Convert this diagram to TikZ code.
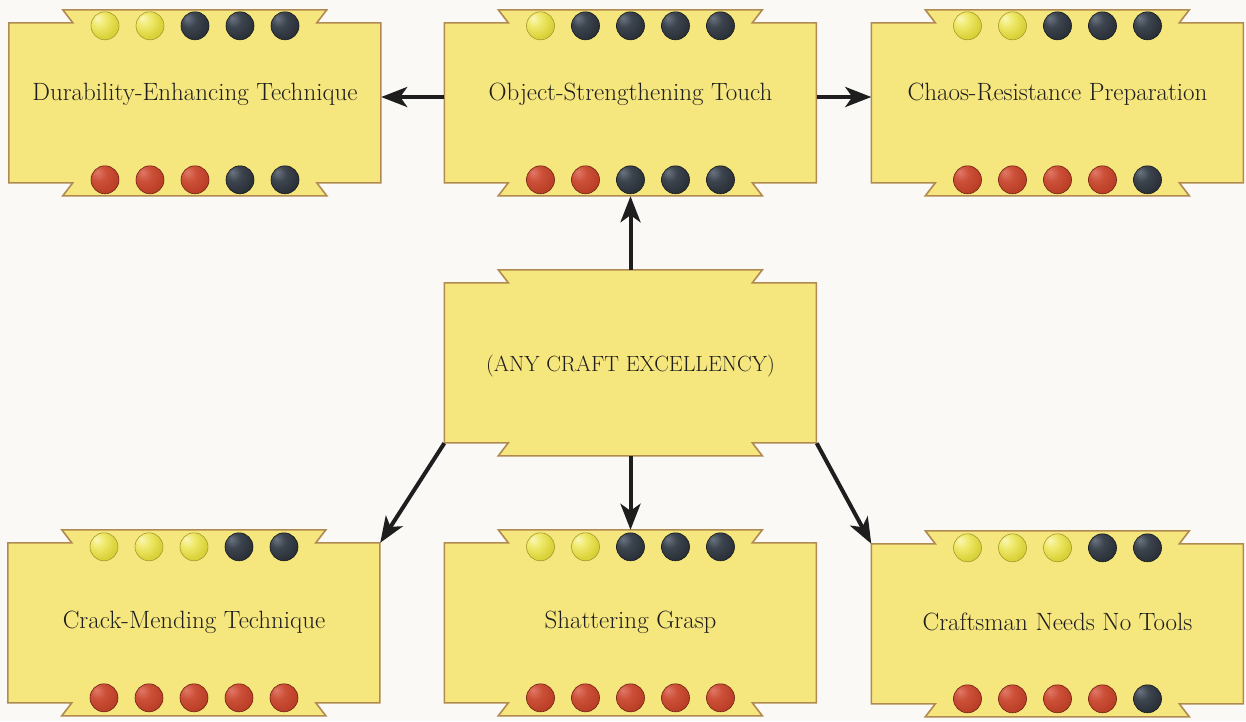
\documentclass[tikz,border=0pt]{standalone}
\usepackage{fontspec}
\usetikzlibrary{arrows.meta,backgrounds}
\definecolor{bgpaper}{HTML}{FBF9F6}
\definecolor{boxfill}{HTML}{F6E67E}
\definecolor{boxedge}{HTML}{B08A50}
\definecolor{rimY}{HTML}{A39A2A}
\definecolor{rimK}{HTML}{15181C}
\definecolor{rimR}{HTML}{6E2012}
\definecolor{inkc}{HTML}{1E1E1E}
\definecolor{yA}{HTML}{FAF6B8}\definecolor{yB}{HTML}{F0EA70}\definecolor{yC}{HTML}{DCD43C}\definecolor{yD}{HTML}{C4BC30}\definecolor{yE}{HTML}{A09820}
\definecolor{kA}{HTML}{6A7480}\definecolor{kB}{HTML}{3C444E}\definecolor{kC}{HTML}{2C323A}\definecolor{kD}{HTML}{22272D}\definecolor{kE}{HTML}{101214}
\definecolor{rA}{HTML}{E07868}\definecolor{rB}{HTML}{CC5038}\definecolor{rC}{HTML}{BC4028}\definecolor{rD}{HTML}{A03420}\definecolor{rE}{HTML}{6A1C10}
\pgfdeclareradialshading{gemballY}{\pgfpoint{-14bp}{14bp}}{color(0bp)=(yA); color(12bp)=(yB); color(28bp)=(yC); color(50bp)=(yD); color(66bp)=(yE)}
\pgfdeclareradialshading{gemballK}{\pgfpoint{-14bp}{14bp}}{color(0bp)=(kA); color(14bp)=(kB); color(30bp)=(kC); color(50bp)=(kD); color(66bp)=(kE)}
\pgfdeclareradialshading{gemballR}{\pgfpoint{-14bp}{14bp}}{color(0bp)=(rA); color(14bp)=(rB); color(30bp)=(rC); color(50bp)=(rD); color(66bp)=(rE)}
\newcommand\skillshape[1]{%
  \draw[boxline] (#1.north west) -- ++(64,0) -- ++(-10,-13) -- ++(264,0) -- ++(-10,13) -- ++(64,0)
    -- ++(0,160) -- ++(-64,0) -- ++(10,13) -- ++(-264,0) -- ++(10,-13) -- ++(-64,0) -- cycle;}
\newcommand\gemrow[3]{%
  \foreach \c [count=\i] in {#3} \path[shading=gemball\c, draw=rim\c, line width=0.6pt] ([xshift={(\i-3)*45pt}, yshift=#2]#1.north) circle (14);}
\newcommand\sktext[2]{\raisebox{#1}[0pt][0pt]{#2}}
\begin{document}
\begin{tikzpicture}[x=1pt,y=-1pt,
  skill/.style={minimum width=372pt, minimum height=160pt, inner sep=0pt, text=inkc,
    font=\fontsize{25}{29}\selectfont},
  boxline/.style={fill=boxfill, draw=boxedge, line width=1.6pt, line join=miter},
  conn/.style={draw=inkc, line width=4pt, -{Stealth[length=26pt,width=20pt,inset=7pt]}}]
\useasboundingbox (0,0) rectangle (1246,721);
\begin{scope}[on background layer]
  \fill[bgpaper] (0,0) rectangle (1246,721);
\end{scope}
\node[skill] (dur) at (195,103) {\sktext{2.5pt}{Durability-Enhancing Technique}};
\node[skill] (ost) at (630.5,103) {\sktext{2.5pt}{Object-Strengthening Touch}};
\node[skill] (chaos) at (1057.5,103) {\sktext{2.5pt}{Chaos-Resistance Preparation}};
\node[skill, font=\fontsize{22}{26}\selectfont] (any) at (630.5,363) {\sktext{-8pt}{(ANY CRAFT EXCELLENCY)}};
\node[skill] (crack) at (194,623) {\sktext{-5.5pt}{Crack-Mending Technique}};
\node[skill] (shat) at (630.5,623) {\sktext{-5.5pt}{Shattering Grasp}};
\node[skill] (crafts) at (1057.5,624) {\sktext{-6pt}{Craftsman Needs No Tools}};
\begin{scope}[on background layer]
  \skillshape{dur}\skillshape{ost}\skillshape{chaos}\skillshape{any}
  \skillshape{crack}\skillshape{shat}\skillshape{crafts}
\end{scope}
\gemrow{dur}{-3pt}{Y,Y,K,K,K}
\gemrow{dur}{-157pt}{R,R,R,K,K}
\gemrow{ost}{-3pt}{Y,K,K,K,K}
\gemrow{ost}{-157pt}{R,R,K,K,K}
\gemrow{chaos}{-3pt}{Y,Y,K,K,K}
\gemrow{chaos}{-157pt}{R,R,R,R,K}
\gemrow{crack}{-4pt}{Y,Y,Y,K,K}
\gemrow{crack}{-155pt}{R,R,R,R,R}
\gemrow{shat}{-4pt}{Y,Y,K,K,K}
\gemrow{shat}{-155pt}{R,R,R,R,R}
\gemrow{crafts}{-4pt}{Y,Y,Y,K,K}
\gemrow{crafts}{-155pt}{R,R,R,R,K}
\draw[conn] ([yshift=6pt]ost.west) -- ([yshift=6pt]dur.east);
\draw[conn] ([yshift=6pt]ost.east) -- ([yshift=6pt]chaos.west);
\draw[conn] ([yshift=13pt]any.north) -- ([yshift=-13pt]ost.south);
\draw[conn] ([yshift=-13pt]any.south) -- ([yshift=13pt]shat.north);
\draw[conn] (any.south west) -- (crack.north east);
\draw[conn] (any.south east) -- (crafts.north west);
\end{tikzpicture}
\end{document}
